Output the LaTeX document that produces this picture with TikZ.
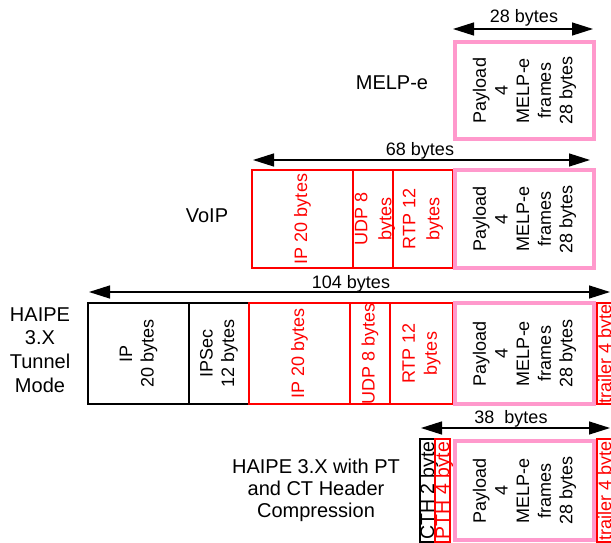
\documentclass[tikz,border=0pt]{standalone}
\usepackage{fontspec}
\setmainfont{Liberation Sans}
\usetikzlibrary{arrows.meta}
\definecolor{paypink}{HTML}{FF99CC}
\newcommand\bx{\fontsize{18}{21.6}\selectfont}
\newcommand\lb{\fontsize{20}{24}\selectfont}
\tikzset{
  field/.style={draw, rotate=90, inner sep=0pt, outer sep=0pt, line width=1.1pt, align=center, font=\bx},
  hdr/.style={field, draw=black, text=black},
  redf/.style={field, draw=red, text=red},
  payf/.style={field, draw=paypink, line width=4pt, text=black},
  span/.style={{Triangle[length=21pt,width=13pt]}-{Triangle[length=21pt,width=13pt]}, line width=1.3pt},
  spanlbl/.style={font=\bx, inner sep=0pt, anchor=base},
  lbl/.style={font=\lb, align=center, inner sep=0pt},
}
\begin{document}
\begin{tikzpicture}[x=1pt,y=-1pt]
\useasboundingbox (0,0) rectangle (611,543);
\clip (0,0) rectangle (611,543);

% ---- MELP-e payload alone
\node[lbl, anchor=base] (lmelp) at (392,89) {MELP-e};
\node[payf, minimum width=97pt, minimum height=139pt] (pay1) at (524.5,90.5) {Payload\\4\\MELP-e\\frames\\28 bytes};
\coordinate (a1l) at (453,29);
\coordinate (a1r) at (593,29);
\draw[span] (a1l) -- (a1r);
\node[spanlbl] (s1) at (524,23) {28 bytes};

% ---- VoIP packet
\node[lbl, anchor=base] (lvoip) at (207,222) {VoIP};
\node[redf, minimum width=98pt, minimum height=101pt] (ip2) at (302.5,219) {IP 20 bytes};
\node[redf, minimum width=98pt, minimum height=40pt, font={\fontsize{18}{24}\selectfont}, text depth=0pt] (udp2) at (373,219) {UDP 8\\bytes};
\node[redf, minimum width=98pt, minimum height=60pt, font={\fontsize{18}{24}\selectfont}] (rtp2) at (423,219) {RTP 12\\bytes};
\node[payf, minimum width=98pt, minimum height=139pt] (pay2) at (524.5,219) {Payload\\4\\MELP-e\\frames\\28 bytes};
\coordinate (a2l) at (253,160);
\coordinate (a2r) at (590,160);
\draw[span] (a2l) -- (a2r);
\node[spanlbl] (s2) at (420,155) {68 bytes};

% ---- HAIPE 3.X tunnel mode
\node[lbl, font={\fontsize{20}{23.7}\selectfont}] (ltun) at (40,350) {HAIPE\\3.X\\Tunnel\\Mode};
\node[hdr, minimum width=101pt, minimum height=101pt] (ipo3) at (138.5,353.5) {IP\\20 bytes};
\node[hdr, minimum width=101pt, minimum height=60pt] (ipsec3) at (219,353.5) {IPSec\\12 bytes};
\node[redf, minimum width=101pt, minimum height=101pt] (ip3) at (299.5,353.5) {IP 20 bytes};
\node[redf, minimum width=101pt, minimum height=40pt] (udp3) at (370,353.5) {UDP 8 bytes};
\node[redf, minimum width=101pt, minimum height=63pt, font={\fontsize{18}{22}\selectfont}] (rtp3) at (421.5,353.5) {RTP 12\\bytes};
\node[payf, minimum width=101pt, minimum height=139pt] (pay3) at (524.5,353.5) {Payload\\4\\MELP-e\\frames\\28 bytes};
\node[redf, minimum width=101pt, minimum height=19pt] (tr3) at (606.5,353.5) {trailer 4 byte};
\coordinate (a3l) at (89,292);
\coordinate (a3r) at (610,292);
\draw[span] (a3l) -- (a3r);
\node[spanlbl] (s3) at (351,288) {104 bytes};

% ---- HAIPE 3.X with header compression
\node[lbl, font={\fontsize{20}{22}\selectfont}] (lcmp) at (316,490) {HAIPE 3.X with PT\\and CT Header\\Compression};
\node[hdr, minimum width=103pt, minimum height=15pt, font={\fontsize{19.5}{22}\selectfont}, text height=13pt, text depth=0pt] (cth4) at (427.5,490.5) {CTH 2 byte};
\node[redf, minimum width=103pt, minimum height=15pt, font={\fontsize{19.5}{22}\selectfont}, text height=13pt, text depth=0pt] (pth4) at (442.5,490.5) {PTH 4 byte};
\node[payf, minimum width=99pt, minimum height=139pt] (pay4) at (524.5,490.5) {Payload\\4\\MELP-e\\frames\\28 bytes};
\node[redf, minimum width=103pt, minimum height=19pt] (tr4) at (606.5,490.5) {trailer 4 byte};
\coordinate (a4l) at (421,428);
\coordinate (a4r) at (610,428);
\draw[span] (a4l) -- (a4r);
\node[spanlbl] (s4) at (511,423) {38\ \ bytes};
\end{tikzpicture}
\end{document}
